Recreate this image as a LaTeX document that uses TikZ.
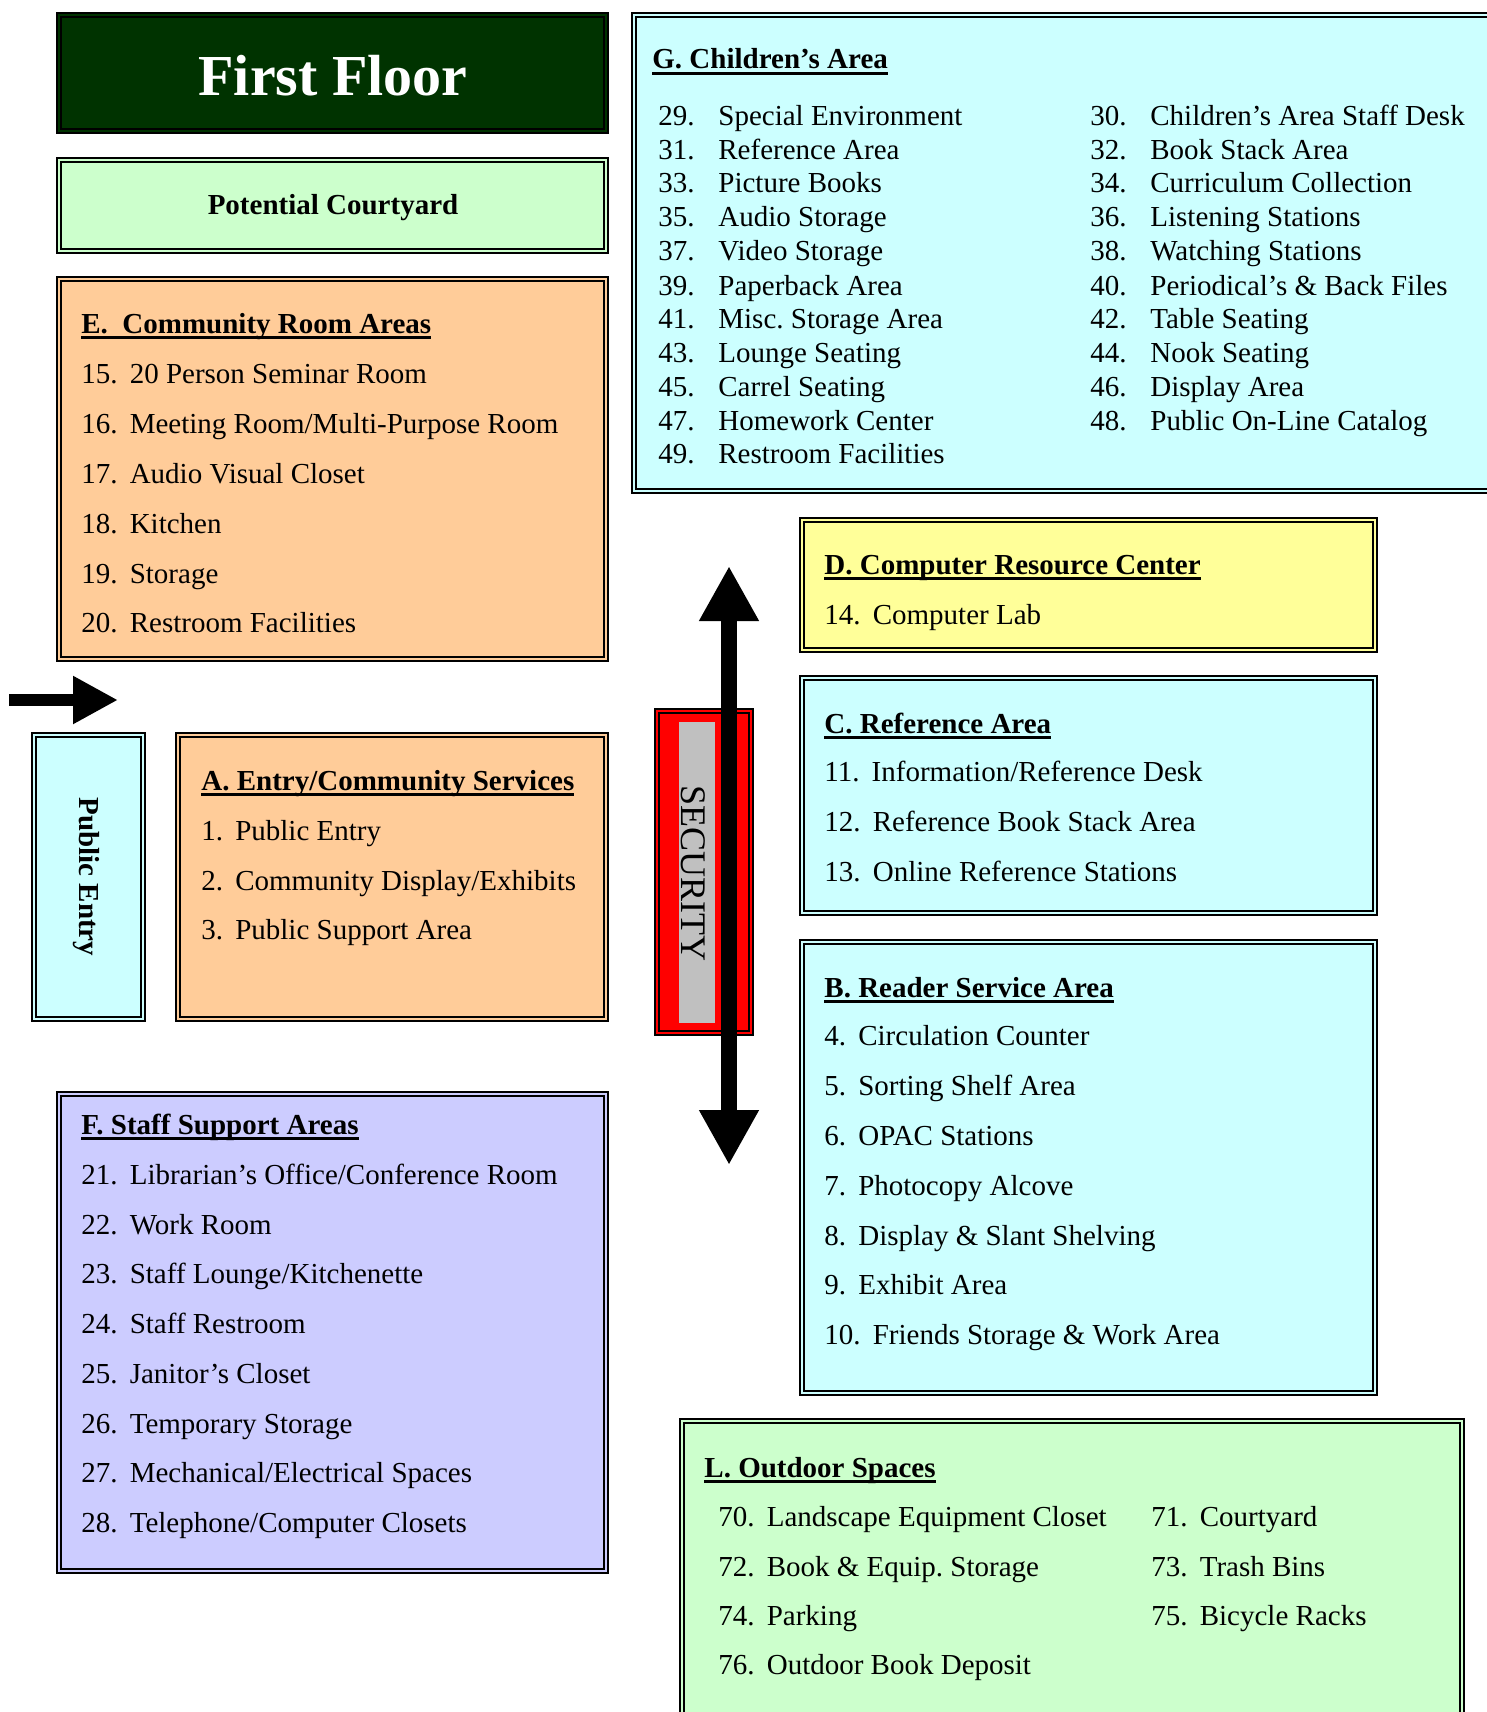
\documentclass[tikz,border=0pt]{standalone}
\usepackage{fontspec}
\setmainfont{Liberation Serif}
\usetikzlibrary{arrows.meta,fit}
\frenchspacing

\definecolor{floorgreen}{HTML}{003300}
\definecolor{courtgreen}{HTML}{CCFFCC}
\definecolor{peach}{HTML}{FFCC99}
\definecolor{paleblue}{HTML}{CCFFFF}
\definecolor{paleyellow}{HTML}{FFFF99}
\definecolor{lavender}{HTML}{CCCCFF}
\definecolor{secgray}{HTML}{C0C0C0}

\newcommand{\headtext}[1]{\setbox0\hbox{\bfseries #1}\rlap{\rule[-2.8pt]{\wd0}{1.2pt}}\box0}
\newcommand{\itemno}[1]{#1\hspace{0.42em}}
\newcommand{\colno}[1]{\makebox[30pt][l]{#1}}

\tikzset{
  room/.style={draw, line width=1.2pt, inner sep=0pt},
  roomtext/.style={anchor=base west, inner sep=0pt, font=\fontsize{14.5}{17}\selectfont},
  bigarrow/.style={line width=8pt, {Triangle[width=28pt,length=27.5pt]}-{Triangle[width=28pt,length=27.5pt]}},
  inarrow/.style={line width=6pt, -{Triangle[width=22.5pt,length=22.5pt]}}
}

\begin{document}
\begin{tikzpicture}[x=0.5pt,y=-0.5pt]

  \useasboundingbox (0,0) rectangle (1487,1712);

  % Boxes
  \node[room, fill=floorgreen, fit={(57,13) (608,133)}] (title) {};
  \node[room, fill=courtgreen, fit={(57,158) (608,253)}] (court) {};
  \node[room, fill=peach, fit={(57,277) (608,661)}] (roomE) {};
  \node[room, fill=paleblue, fit={(632,13) (1500,493)}] (roomG) {};
  \node[room, fill=paleyellow, fit={(800,518) (1377,652)}] (roomD) {};
  \node[room, fill=paleblue, fit={(800,676) (1377,915)}] (roomC) {};
  \node[room, fill=paleblue, fit={(800,940) (1377,1395)}] (roomB) {};
  \node[room, fill=courtgreen, fit={(680,1419) (1464,1725)}] (roomL) {};
  \node[room, fill=lavender, fit={(57,1092) (608,1573)}] (roomF) {};
  \node[room, fill=peach, fit={(176,733) (608,1021)}] (roomA) {};
  \node[room, fill=paleblue, fit={(32,733) (145,1021)}] (entry) {};
  \node[room, fill=red, fit={(655,709) (753,1035)}] (security) {};

  % Inner lines of the double borders
  \foreach \b in {title,court,roomE,roomG,roomD,roomC,roomB,roomL,roomF,roomA,entry,security}
    \draw[line width=0.75pt] ([shift={(2.6pt,-2.6pt)}]\b.north west) rectangle ([shift={(-2.6pt,2.6pt)}]\b.south east);

  \node[fill=secgray, inner sep=0pt, fit={(679,722) (715,1023)}] (secpanel) {};

  % Titles
  \node[font=\fontsize{29}{32}\selectfont\bfseries, text=white] (titletext) at (333,76) {First Floor};
  \node[font=\fontsize{14.5}{17}\selectfont\bfseries, anchor=base] (courttext) at (333,215) {Potential Courtyard};
  \node[font=\fontsize{14.5}{17}\selectfont\bfseries, rotate=-90] (entrytext) at (86,877) {Public Entry};
  \node[font=\fontsize{18}{20}\selectfont, rotate=-90] (sectext) at (693,873) {SECURITY};

  % E. Community Room Areas
  \node[roomtext] (headE) at (81,333) {\headtext{E.\ \ Community Room Areas}};
  \node[roomtext] (item15) at (81,383) {\itemno{15.}20 Person Seminar Room};
  \node[roomtext] (item16) at (81,433) {\itemno{16.}Meeting Room/Multi-Purpose Room};
  \node[roomtext] (item17) at (81,483) {\itemno{17.}Audio Visual Closet};
  \node[roomtext] (item18) at (81,533) {\itemno{18.}Kitchen};
  \node[roomtext] (item19) at (81,583) {\itemno{19.}Storage};
  \node[roomtext] (item20) at (81,632) {\itemno{20.}Restroom Facilities};

  % A. Entry/Community Services
  \node[roomtext] (headA) at (201,790) {\headtext{A. Entry/Community Services}};
  \node[roomtext] (item1) at (201,840) {\itemno{1.}Public Entry};
  \node[roomtext] (item2) at (201,890) {\itemno{2.}Community Display/Exhibits};
  \node[roomtext] (item3) at (201,939) {\itemno{3.}Public Support Area};

  % F. Staff Support Areas
  \node[roomtext] (headF) at (81,1134) {\headtext{F. Staff Support Areas}};
  \node[roomtext] (item21) at (81,1184) {\itemno{21.}Librarian’s Office/Conference Room};
  \node[roomtext] (item22) at (81,1234) {\itemno{22.}Work Room};
  \node[roomtext] (item23) at (81,1283) {\itemno{23.}Staff Lounge/Kitchenette};
  \node[roomtext] (item24) at (81,1333) {\itemno{24.}Staff Restroom};
  \node[roomtext] (item25) at (81,1383) {\itemno{25.}Janitor’s Closet};
  \node[roomtext] (item26) at (81,1433) {\itemno{26.}Temporary Storage};
  \node[roomtext] (item27) at (81,1482) {\itemno{27.}Mechanical/Electrical Spaces};
  \node[roomtext] (item28) at (81,1532) {\itemno{28.}Telephone/Computer Closets};

  % G. Children's Area
  \node[roomtext] (headG) at (652,69) {\headtext{G. Children’s Area}};
  \node[roomtext] (item29) at (658,126) {\colno{29.}Special Environment};
  \node[roomtext] (item30) at (1090,126) {\colno{30.}Children’s Area Staff Desk};
  \node[roomtext] (item31) at (658,160) {\colno{31.}Reference Area};
  \node[roomtext] (item32) at (1090,160) {\colno{32.}Book Stack Area};
  \node[roomtext] (item33) at (658,193) {\colno{33.}Picture Books};
  \node[roomtext] (item34) at (1090,193) {\colno{34.}Curriculum Collection};
  \node[roomtext] (item35) at (658,227) {\colno{35.}Audio Storage};
  \node[roomtext] (item36) at (1090,227) {\colno{36.}Listening Stations};
  \node[roomtext] (item37) at (658,261) {\colno{37.}Video Storage};
  \node[roomtext] (item38) at (1090,261) {\colno{38.}Watching Stations};
  \node[roomtext] (item39) at (658,295) {\colno{39.}Paperback Area};
  \node[roomtext] (item40) at (1090,295) {\colno{40.}Periodical’s \& Back Files};
  \node[roomtext] (item41) at (658,328) {\colno{41.}Misc. Storage Area};
  \node[roomtext] (item42) at (1090,328) {\colno{42.}Table Seating};
  \node[roomtext] (item43) at (658,362) {\colno{43.}Lounge Seating};
  \node[roomtext] (item44) at (1090,362) {\colno{44.}Nook Seating};
  \node[roomtext] (item45) at (658,396) {\colno{45.}Carrel Seating};
  \node[roomtext] (item46) at (1090,396) {\colno{46.}Display Area};
  \node[roomtext] (item47) at (658,430) {\colno{47.}Homework Center};
  \node[roomtext] (item48) at (1090,430) {\colno{48.}Public On-Line Catalog};
  \node[roomtext] (item49) at (658,463) {\colno{49.}Restroom Facilities};

  % D. Computer Resource Center
  \node[roomtext] (headD) at (824,574) {\headtext{D. Computer Resource Center}};
  \node[roomtext] (item14) at (824,624) {\itemno{14.}Computer Lab};

  % C. Reference Area
  \node[roomtext] (headC) at (824,733) {\headtext{C. Reference Area}};
  \node[roomtext] (item11) at (824,781) {\itemno{11.}Information/Reference Desk};
  \node[roomtext] (item12) at (824,831) {\itemno{12.}Reference Book Stack Area};
  \node[roomtext] (item13) at (824,881) {\itemno{13.}Online Reference Stations};

  % B. Reader Service Area
  \node[roomtext] (headB) at (824,997) {\headtext{B. Reader Service Area}};
  \node[roomtext] (item4) at (824,1045) {\itemno{4.}Circulation Counter};
  \node[roomtext] (item5) at (824,1095) {\itemno{5.}Sorting Shelf Area};
  \node[roomtext] (item6) at (824,1145) {\itemno{6.}OPAC Stations};
  \node[roomtext] (item7) at (824,1195) {\itemno{7.}Photocopy Alcove};
  \node[roomtext] (item8) at (824,1245) {\itemno{8.}Display \& Slant Shelving};
  \node[roomtext] (item9) at (824,1294) {\itemno{9.}Exhibit Area};
  \node[roomtext] (item10) at (824,1344) {\itemno{10.}Friends Storage \& Work Area};

  % L. Outdoor Spaces
  \node[roomtext] (headL) at (704,1477) {\headtext{L. Outdoor Spaces}};
  \node[roomtext] (item70) at (718,1526) {\itemno{70.}Landscape Equipment Closet};
  \node[roomtext] (item71) at (1151,1526) {\itemno{71.}Courtyard};
  \node[roomtext] (item72) at (718,1576) {\itemno{72.}Book \& Equip. Storage};
  \node[roomtext] (item73) at (1151,1576) {\itemno{73.}Trash Bins};
  \node[roomtext] (item74) at (718,1625) {\itemno{74.}Parking};
  \node[roomtext] (item75) at (1151,1625) {\itemno{75.}Bicycle Racks};
  \node[roomtext] (item76) at (718,1674) {\itemno{76.}Outdoor Book Deposit};

  % Arrows
  \coordinate (entryStart) at (9,700);
  \coordinate (entryTip) at (118,700);
  \draw[inarrow] (entryStart) -- (entryTip);

  \coordinate (secTop) at (729,566);
  \coordinate (secBottom) at (729,1165);
  \draw[bigarrow] (secTop) -- (secBottom);

\end{tikzpicture}
\end{document}
